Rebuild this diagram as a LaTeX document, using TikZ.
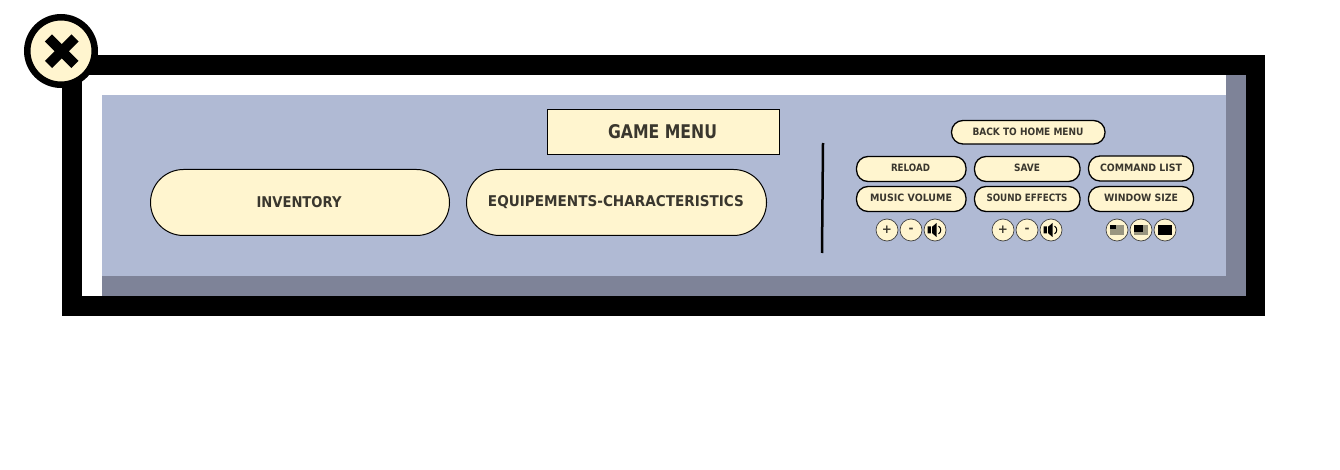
\documentclass[tikz,border=0pt]{standalone}
\usepackage{fontspec}
\setmainfont{DejaVu Sans}
\definecolor{panelblue}{HTML}{B0BAD4}
\definecolor{shadegray}{HTML}{7E8398}
\definecolor{cream}{HTML}{FFF5CF}
\definecolor{inkgray}{HTML}{3A372E}
\definecolor{iconback}{HTML}{9A9680}
\newcommand{\fit}[3]{\resizebox{#1pt}{#2pt}{\bfseries #3}}
\tikzset{
  x=1pt,y=-1pt,
  txt/.style={inner sep=0pt,outer sep=0pt,text=inkgray},
  pill/.style={draw=black,fill=cream,line width=1.3pt,rounded corners=11.5pt},
  bigpill/.style={draw=black,fill=cream,line width=1pt,rounded corners=33pt},
  roundbtn/.style={circle,draw=black!75,fill=cream,line width=0.7pt,minimum size=22pt,inner sep=0pt,outer sep=0pt},
  sign/.style={inner sep=0pt,outer sep=0pt,text=inkgray,font=\bfseries\fontsize{12}{12}\selectfont},
}
\newcommand{\speaker}[2]{%
  \fill[black] (#1-7,#2-3.5) -- (#1-2,#2-3.5) -- (#1+2,#2-7) -- (#1+2,#2+7) -- (#1-2,#2+3.5) -- (#1-7,#2+3.5) -- cycle;
  \draw[cream,line width=0.9pt] (#1-3,#2-5) -- (#1-3,#2+5);
  \draw[black,line width=1pt] (#1+4,#2-4) .. controls (#1+7,#2-2) and (#1+7,#2+2) .. (#1+4,#2+4);
}
\begin{document}
\begin{tikzpicture}
\useasboundingbox (0,0) rectangle (1340,470);
\fill[white] (0,0) rectangle (1340,470);
% frame
\fill[black] (62,55) rectangle (1265,316);
\fill[white] (82,75) rectangle (1246,296);
\fill[shadegray] (1226,75) rectangle (1246,296);
\fill[shadegray] (102,276) rectangle (1246,296);
\fill[panelblue] (102,95) rectangle (1226,276);
% close button
\node[circle,draw=black,fill=cream,line width=6.5pt,minimum size=67.5pt,inner sep=0pt,outer sep=0pt] (close) at (61,51) {};
\draw[black,line width=10pt] (48.5,38) -- (75,64.5);
\draw[black,line width=10pt] (75,38) -- (48.5,64.5);
% title and big pills
\draw[draw=black,fill=cream,line width=1.3pt] (547.5,109.5) rectangle (779.5,154.5);
\node[txt] (title) at (662.5,131.5) {\fit{109}{14}{GAME MENU}};
\draw[bigpill] (150.5,169.5) rectangle (449.5,235.5);
\node[txt] (inv) at (299,202) {\fit{85}{11}{INVENTORY}};
\draw[bigpill] (466.5,169.5) rectangle (766.5,235.5);
\node[txt] (equip) at (616,202) {\fit{256}{11}{EQUIPEMENTS-CHARACTERISTICS}};
% divider
\draw[black,line width=2.5pt] (823,143) -- (822,253);
% small pills
\draw[pill] (951.5,120.5) rectangle (1105,144);
\node[txt] (back) at (1028,131.5) {\fit{111}{7.5}{BACK TO HOME MENU}};
\draw[pill] (856.5,156.5) rectangle (966,181.5);
\node[txt] (reload) at (910.5,167.5) {\fit{39}{7.5}{RELOAD}};
\draw[pill] (974.5,156.5) rectangle (1080,181.5);
\node[txt] (save) at (1027,167.5) {\fit{26}{7.5}{SAVE}};
\draw[pill] (1088.5,156) rectangle (1193.5,181);
\node[txt] (cmd) at (1141,167.5) {\fit{82}{7.5}{COMMAND LIST}};
\draw[pill] (856.5,186.5) rectangle (966,211.5);
\node[txt] (music) at (911,197.5) {\fit{82}{7.5}{MUSIC VOLUME}};
\draw[pill] (974.5,186.5) rectangle (1080,211.5);
\node[txt] (sound) at (1027,197.5) {\fit{81}{7.5}{SOUND EFFECTS}};
\draw[pill] (1088.5,186.5) rectangle (1193.5,211.5);
\node[txt] (win) at (1141,197.5) {\fit{74}{7.5}{WINDOW SIZE}};
% round buttons, music
\node[roundbtn] (mp) at (887,230) {};
\node[sign] at (mp) {+};
\node[roundbtn] (mm) at (911,230) {};
\node[sign] at (mm) {-};
\node[roundbtn] (ms) at (935,230) {};
\speaker{934.5}{230}
% sound
\node[roundbtn] (sp) at (1003,230) {};
\node[sign] at (sp) {+};
\node[roundbtn] (sm) at (1027,230) {};
\node[sign] at (sm) {-};
\node[roundbtn] (ss) at (1051,230) {};
\speaker{1050.5}{230}
% window size
\node[roundbtn] (w1) at (1117,230) {};
\fill[iconback] (1110,225) rectangle (1124,235);
\fill[black] (1110,225) rectangle (1116,229);
\node[roundbtn] (w2) at (1141,230) {};
\fill[iconback] (1134,225) rectangle (1148,235);
\fill[black] (1134,225) rectangle (1143,232);
\node[roundbtn] (w3) at (1165,230) {};
\fill[black] (1158,225) rectangle (1172,235);
\end{tikzpicture}
\end{document}
